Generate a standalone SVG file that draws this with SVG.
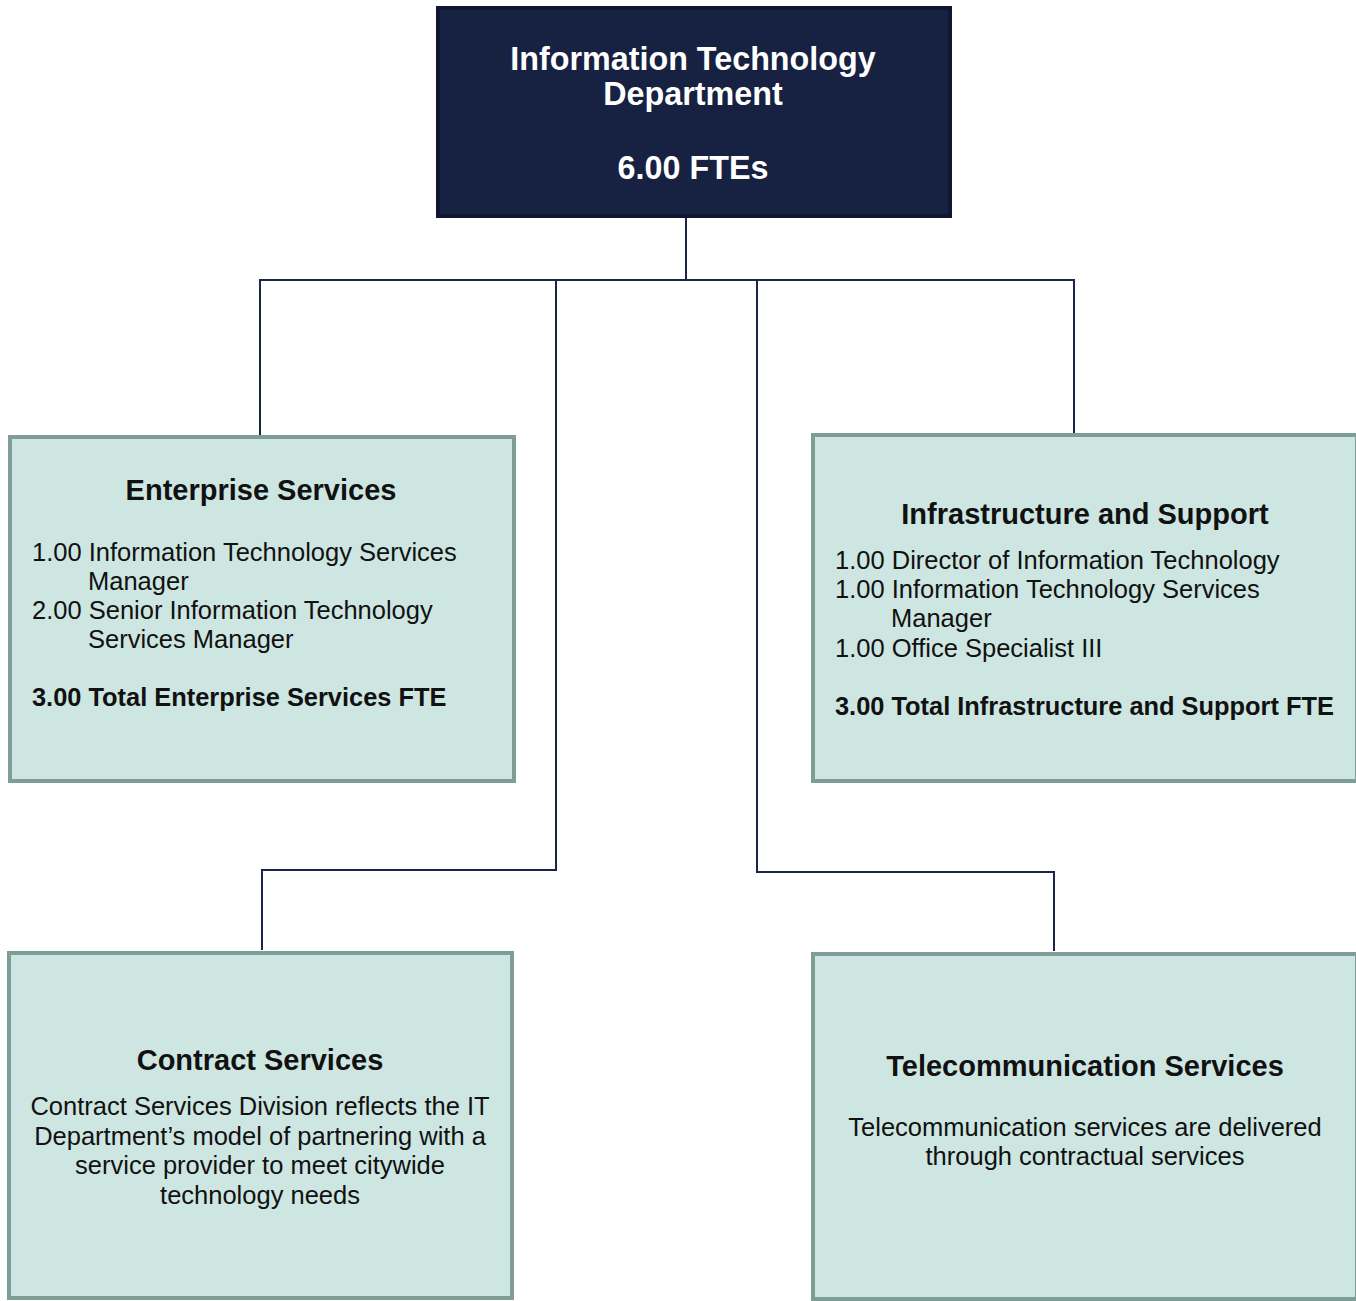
<svg xmlns="http://www.w3.org/2000/svg" width="1356" height="1301" viewBox="0 0 1356 1301">
<style>
.top{fill:#172142;stroke:#0e1630;stroke-width:4}
.box{fill:#cde6e1;stroke:#7e9d97;stroke-width:4}
.conn{fill:none;stroke:#1b2547;stroke-width:2}
text{font-family:"Liberation Sans",Arial,sans-serif;fill:#111}
.tt{font-size:32.3px;font-weight:bold;fill:#fff;text-anchor:middle}
.h{font-size:29px;font-weight:bold;text-anchor:middle}
.b{font-size:25.5px}
.bb{font-size:25.4px;font-weight:bold}
.c{text-anchor:middle}
</style>
<rect width="1356" height="1301" fill="#fff"/>
<g id="connectors">
<path class="conn" d="M686 217V280"/>
<path class="conn" d="M260 435V280H1074V433"/>
<path class="conn" d="M556 280V870H262V950"/>
<path class="conn" d="M757 280V872H1054V951"/>
</g>
<g id="it-department">
<rect class="top" x="438" y="8" width="512" height="208"/>
<text class="tt" x="693" y="70">Information Technology</text>
<text class="tt" x="693" y="105">Department</text>
<text class="tt" x="693" y="179">6.00 FTEs</text>
</g>
<g id="enterprise-services">
<rect class="box" x="10" y="437" width="504" height="344"/>
<text class="h" x="261" y="500">Enterprise Services</text>
<text class="b" x="32" y="561">1.00 Information Technology Services</text>
<text class="b" x="88" y="590">Manager</text>
<text class="b" x="32" y="619">2.00 Senior Information Technology</text>
<text class="b" x="88" y="648">Services Manager</text>
<text class="bb" x="32" y="706">3.00 Total Enterprise Services FTE</text>
</g>
<g id="infrastructure-support">
<rect class="box" x="813" y="435" width="544" height="346"/>
<text class="h" x="1085" y="524">Infrastructure and Support</text>
<text class="b" x="835" y="569">1.00 Director of Information Technology</text>
<text class="b" x="835" y="598">1.00 Information Technology Services</text>
<text class="b" x="891" y="627">Manager</text>
<text class="b" x="835" y="657">1.00 Office Specialist III</text>
<text class="bb" x="835" y="715">3.00 Total Infrastructure and Support FTE</text>
</g>
<g id="contract-services">
<rect class="box" x="9" y="953" width="503" height="345"/>
<text class="h" x="260" y="1070">Contract Services</text>
<text class="b c" x="260" y="1115">Contract Services Division reflects the IT</text>
<text class="b c" x="260" y="1145">Department’s model of partnering with a</text>
<text class="b c" x="260" y="1174">service provider to meet citywide</text>
<text class="b c" x="260" y="1204">technology needs</text>
</g>
<g id="telecommunication-services">
<rect class="box" x="813" y="954" width="544" height="345"/>
<text class="h" x="1085" y="1076">Telecommunication Services</text>
<text class="b c" x="1085" y="1136">Telecommunication services are delivered</text>
<text class="b c" x="1085" y="1165">through contractual services</text>
</g>
</svg>
